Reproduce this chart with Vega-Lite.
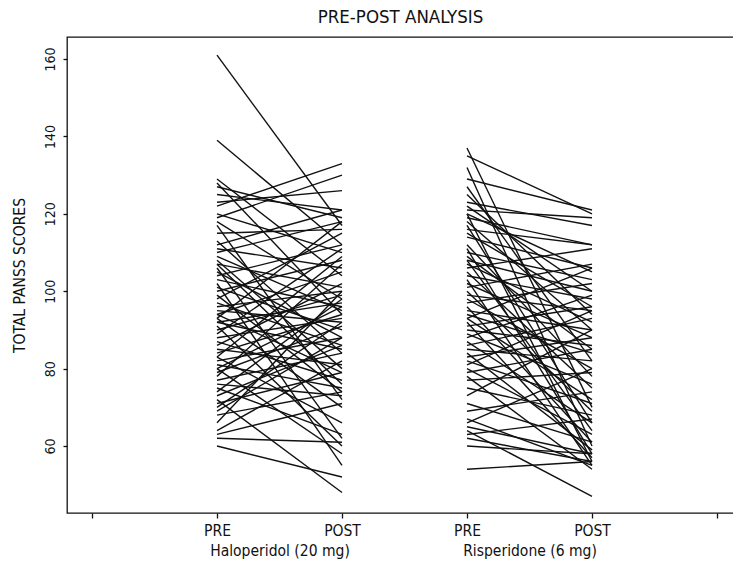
{
  "$schema": "https://vega.github.io/schema/vega-lite/v6.json",
  "autosize": {"type": "none"},
  "width": 667,
  "height": 476,
  "padding": {"left": 67, "top": 37, "right": 0, "bottom": 53},
  "background": "white",
  "config": {
    "view": {"stroke": "#111", "strokeWidth": 1.3},
    "font": "DejaVu Sans Condensed, Liberation Sans, Arial, sans-serif"
  },
  "title": {"text": "PRE-POST ANALYSIS", "fontSize": 18.5, "fontWeight": "normal", "offset": 11, "anchor": "middle", "color": "#111"},
  "data": {"values": [
    {"g":"H","id":1,"PRE":161,"POST":117},{"g":"H","id":2,"PRE":139,"POST":112},{"g":"H","id":3,"PRE":129,"POST":104},
    {"g":"H","id":4,"PRE":128,"POST":94},{"g":"H","id":5,"PRE":127,"POST":119},{"g":"H","id":6,"PRE":125,"POST":121},
    {"g":"H","id":7,"PRE":123,"POST":126},{"g":"H","id":8,"PRE":122,"POST":133},{"g":"H","id":9,"PRE":120,"POST":110},
    {"g":"H","id":10,"PRE":119,"POST":130},{"g":"H","id":11,"PRE":118,"POST":98},{"g":"H","id":12,"PRE":117,"POST":72},
    {"g":"H","id":13,"PRE":115,"POST":116},{"g":"H","id":14,"PRE":113,"POST":84},{"g":"H","id":15,"PRE":112,"POST":121},
    {"g":"H","id":16,"PRE":111,"POST":106},{"g":"H","id":17,"PRE":110,"POST":118},{"g":"H","id":18,"PRE":109,"POST":95},
    {"g":"H","id":19,"PRE":108,"POST":80},{"g":"H","id":20,"PRE":107,"POST":101},{"g":"H","id":21,"PRE":107,"POST":76},
    {"g":"H","id":22,"PRE":106,"POST":62},{"g":"H","id":23,"PRE":105,"POST":88},{"g":"H","id":24,"PRE":104,"POST":112},
    {"g":"H","id":25,"PRE":103,"POST":96},{"g":"H","id":26,"PRE":102,"POST":55},{"g":"H","id":27,"PRE":101,"POST":90},
    {"g":"H","id":28,"PRE":100,"POST":108},{"g":"H","id":29,"PRE":99,"POST":74},{"g":"H","id":30,"PRE":98,"POST":115},
    {"g":"H","id":31,"PRE":97,"POST":86},{"g":"H","id":32,"PRE":96,"POST":100},{"g":"H","id":33,"PRE":95,"POST":92},
    {"g":"H","id":34,"PRE":94,"POST":79},{"g":"H","id":35,"PRE":94,"POST":105},{"g":"H","id":36,"PRE":93,"POST":118},
    {"g":"H","id":37,"PRE":93,"POST":70},{"g":"H","id":38,"PRE":92,"POST":97},{"g":"H","id":39,"PRE":92,"POST":85},
    {"g":"H","id":40,"PRE":91,"POST":60},{"g":"H","id":41,"PRE":90,"POST":99},{"g":"H","id":42,"PRE":89,"POST":111},
    {"g":"H","id":43,"PRE":88,"POST":93},{"g":"H","id":44,"PRE":87,"POST":77},{"g":"H","id":45,"PRE":86,"POST":102},
    {"g":"H","id":46,"PRE":85,"POST":81},{"g":"H","id":47,"PRE":84,"POST":94},{"g":"H","id":48,"PRE":83,"POST":66},
    {"g":"H","id":49,"PRE":83,"POST":109},{"g":"H","id":50,"PRE":82,"POST":88},{"g":"H","id":51,"PRE":81,"POST":75},
    {"g":"H","id":52,"PRE":80,"POST":96},{"g":"H","id":53,"PRE":80,"POST":58},{"g":"H","id":54,"PRE":79,"POST":91},
    {"g":"H","id":55,"PRE":78,"POST":107},{"g":"H","id":56,"PRE":77,"POST":84},{"g":"H","id":57,"PRE":76,"POST":73},
    {"g":"H","id":58,"PRE":75,"POST":63},{"g":"H","id":59,"PRE":74,"POST":98},{"g":"H","id":60,"PRE":73,"POST":86},
    {"g":"H","id":61,"PRE":72,"POST":48},{"g":"H","id":62,"PRE":71,"POST":79},{"g":"H","id":63,"PRE":70,"POST":92},
    {"g":"H","id":64,"PRE":69,"POST":88},{"g":"H","id":65,"PRE":68,"POST":74},{"g":"H","id":66,"PRE":66,"POST":100},
    {"g":"H","id":67,"PRE":64,"POST":82},{"g":"H","id":68,"PRE":63,"POST":71},{"g":"H","id":69,"PRE":62,"POST":61},
    {"g":"H","id":70,"PRE":60,"POST":52},
    {"g":"R","id":1,"PRE":137,"POST":70},{"g":"R","id":2,"PRE":135,"POST":120},{"g":"R","id":3,"PRE":132,"POST":60},
    {"g":"R","id":4,"PRE":129,"POST":121},{"g":"R","id":5,"PRE":127,"POST":82},{"g":"R","id":6,"PRE":125,"POST":94},
    {"g":"R","id":7,"PRE":123,"POST":117},{"g":"R","id":8,"PRE":122,"POST":100},{"g":"R","id":9,"PRE":121,"POST":119},
    {"g":"R","id":10,"PRE":120,"POST":105},{"g":"R","id":11,"PRE":120,"POST":56},{"g":"R","id":12,"PRE":119,"POST":112},
    {"g":"R","id":13,"PRE":118,"POST":90},{"g":"R","id":14,"PRE":117,"POST":66},{"g":"R","id":15,"PRE":116,"POST":112},
    {"g":"R","id":16,"PRE":115,"POST":96},{"g":"R","id":17,"PRE":114,"POST":106},{"g":"R","id":18,"PRE":112,"POST":78},
    {"g":"R","id":19,"PRE":111,"POST":58},{"g":"R","id":20,"PRE":110,"POST":103},{"g":"R","id":21,"PRE":109,"POST":85},
    {"g":"R","id":22,"PRE":108,"POST":100},{"g":"R","id":23,"PRE":108,"POST":64},{"g":"R","id":24,"PRE":107,"POST":92},
    {"g":"R","id":25,"PRE":106,"POST":111},{"g":"R","id":26,"PRE":105,"POST":75},{"g":"R","id":27,"PRE":104,"POST":98},
    {"g":"R","id":28,"PRE":103,"POST":55},{"g":"R","id":29,"PRE":102,"POST":88},{"g":"R","id":30,"PRE":101,"POST":107},
    {"g":"R","id":31,"PRE":100,"POST":69},{"g":"R","id":32,"PRE":99,"POST":95},{"g":"R","id":33,"PRE":98,"POST":80},
    {"g":"R","id":34,"PRE":97,"POST":102},{"g":"R","id":35,"PRE":96,"POST":61},{"g":"R","id":36,"PRE":95,"POST":90},
    {"g":"R","id":37,"PRE":94,"POST":84},{"g":"R","id":38,"PRE":93,"POST":106},{"g":"R","id":39,"PRE":93,"POST":72},
    {"g":"R","id":40,"PRE":92,"POST":57},{"g":"R","id":41,"PRE":91,"POST":96},{"g":"R","id":42,"PRE":90,"POST":86},
    {"g":"R","id":43,"PRE":89,"POST":76},{"g":"R","id":44,"PRE":88,"POST":99},{"g":"R","id":45,"PRE":87,"POST":66},
    {"g":"R","id":46,"PRE":86,"POST":93},{"g":"R","id":47,"PRE":85,"POST":82},{"g":"R","id":48,"PRE":84,"POST":59},
    {"g":"R","id":49,"PRE":83,"POST":88},{"g":"R","id":50,"PRE":82,"POST":71},{"g":"R","id":51,"PRE":81,"POST":95},
    {"g":"R","id":52,"PRE":80,"POST":63},{"g":"R","id":53,"PRE":79,"POST":85},{"g":"R","id":54,"PRE":78,"POST":54},
    {"g":"R","id":55,"PRE":77,"POST":79},{"g":"R","id":56,"PRE":75,"POST":68},{"g":"R","id":57,"PRE":73,"POST":90},
    {"g":"R","id":58,"PRE":71,"POST":61},{"g":"R","id":59,"PRE":69,"POST":74},{"g":"R","id":60,"PRE":67,"POST":55},
    {"g":"R","id":61,"PRE":66,"POST":80},{"g":"R","id":62,"PRE":65,"POST":58},{"g":"R","id":63,"PRE":64,"POST":47},
    {"g":"R","id":64,"PRE":63,"POST":67},{"g":"R","id":65,"PRE":62,"POST":56},{"g":"R","id":66,"PRE":60,"POST":58},
    {"g":"R","id":67,"PRE":54,"POST":56}
  ]},
  "transform": [
    {"fold": ["PRE", "POST"], "as": ["time", "score"]},
    {"calculate": "(datum.g === 'H' ? 2 : 4) + (datum.time === 'POST' ? 1 : 0)", "as": "slot"}
  ],
  "mark": {"type": "line", "color": "#111", "strokeWidth": 1.4, "clip": true},
  "encoding": {
    "x": {
      "field": "slot", "type": "quantitative",
      "scale": {"domain": [0.8, 6.136], "nice": false, "zero": false},
      "axis": {
        "values": [1, 2, 2.5, 3, 4, 4.5, 5, 6],
        "labelExpr": "datum.value == 2 || datum.value == 4 ? 'PRE' : (datum.value == 3 || datum.value == 5 ? 'POST' : (datum.value == 2.5 ? ['', 'Haloperidol (20 mg)'] : (datum.value == 4.5 ? ['', 'Risperidone (6 mg)'] : '')))",
        "tickOpacity": {"condition": {"test": "datum.value == 2.5 || datum.value == 4.5", "value": 0}, "value": 1},
        "labelOverlap": false, "labelBound": false, "labelFlush": false,
        "grid": false, "title": null, "domain": false,
        "tickSize": 5, "tickColor": "#111", "tickWidth": 1.3,
        "labelFontSize": 15.5, "labelLineHeight": 20, "labelPadding": 5, "labelColor": "#111"
      }
    },
    "y": {
      "field": "score", "type": "quantitative",
      "scale": {"domain": [42.7, 165.7], "nice": false, "zero": false},
      "axis": {
        "values": [60, 80, 100, 120, 140, 160],
        "labelAngle": -90, "tickSize": 4, "tickColor": "#111", "tickWidth": 1.3,
        "labelPadding": 6, "labelFontSize": 14, "labelColor": "#111",
        "grid": false, "domain": false,
        "title": "TOTAL PANSS SCORES", "titleFontSize": 15.5, "titleFontWeight": "normal",
        "titlePadding": 16, "titleColor": "#111"
      }
    },
    "detail": [{"field": "g"}, {"field": "id"}],
    "order": {"field": "slot", "type": "quantitative"}
  }
}
